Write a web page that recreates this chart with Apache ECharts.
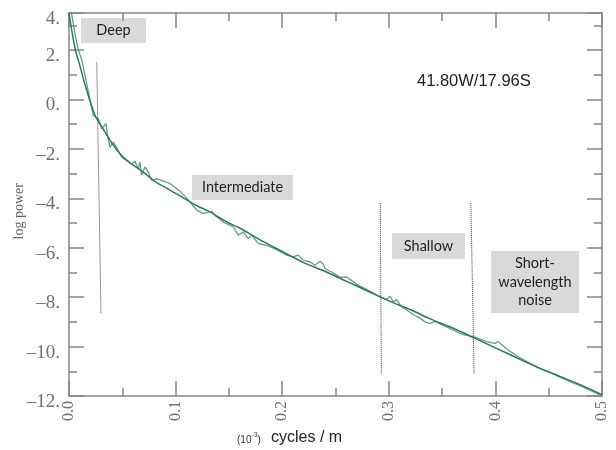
<!DOCTYPE html>
<html>
<head>
<meta charset="utf-8">
<script src="https://cdn.jsdelivr.net/npm/echarts@6/dist/echarts.min.js"></script>
<style>
  html, body { margin: 0; padding: 0; background: #fff; }
  #chart { width: 616px; height: 450px; }
</style>
</head>
<body>
<div id="chart"></div>
<script>
// fitted spectrum (x: 10^-3 cycles/m, y: log power)
var fitFreq = [0, 0.003, 0.006, 0.01, 0.015, 0.02, 0.025, 0.03, 0.04, 0.05, 0.06, 0.07, 0.08, 0.09, 0.1,
  0.11, 0.12, 0.13, 0.14, 0.15, 0.16, 0.18, 0.2, 0.22, 0.24, 0.26, 0.28, 0.3, 0.32, 0.34, 0.36, 0.38,
  0.4, 0.42, 0.44, 0.46, 0.48, 0.5];
var fitPower = [3.5, 2.7, 2.0, 1.4, 0.6, -0.1, -0.7, -1.05, -1.75, -2.3, -2.65, -2.95, -3.3, -3.55, -3.8,
  -4.05, -4.3, -4.5, -4.75, -5.0, -5.2, -5.7, -6.15, -6.6, -6.95, -7.35, -7.75, -8.15, -8.5, -8.9, -9.25, -9.65,
  -10.05, -10.45, -10.85, -11.2, -11.55, -11.95];

// observed (noisy) spectrum
var rawFreq = [0, 0.0025, 0.0056, 0.0088, 0.012, 0.018, 0.0228, 0.0275, 0.0306, 0.0347, 0.037, 0.0385,
  0.0416, 0.0447, 0.0494, 0.0588, 0.0619, 0.065, 0.0666, 0.068, 0.0713, 0.0744, 0.0776, 0.0823, 0.0885,
  0.0947, 0.104, 0.11, 0.1166, 0.1198, 0.126, 0.1338, 0.137, 0.1448, 0.1542, 0.1588, 0.1635, 0.1682,
  0.1714, 0.1776, 0.1854, 0.1948, 0.2042, 0.2104, 0.2151, 0.2198, 0.2261, 0.2308, 0.2355, 0.2386,
  0.2402, 0.2448, 0.2495, 0.2542, 0.2605, 0.2652, 0.2714, 0.2777, 0.284, 0.2917, 0.298, 0.3011,
  0.3042, 0.3074, 0.3121, 0.3168, 0.323, 0.3293, 0.334, 0.3386, 0.3433, 0.348, 0.3543, 0.3636,
  0.3699, 0.3793, 0.3918, 0.3996, 0.4027, 0.4105, 0.4231, 0.4325, 0.4418, 0.4512, 0.4606, 0.47,
  0.4794, 0.4887, 0.498, 0.5];
var rawPower = [3.55, 3.45, 2.65, 2.0, 1.6, 0.35, -0.65, -0.78, -1.18, -0.98, -1.66, -1.93,
  -1.72, -1.95, -2.33, -2.62, -2.5, -2.82, -2.53, -3.07, -2.73, -2.94, -3.27, -3.2, -3.3,
  -3.4, -3.7, -3.98, -4.3, -4.48, -4.62, -4.52, -4.69, -4.96, -5.16, -5.49, -5.36, -5.63,
  -5.49, -5.83, -5.9, -6.08, -6.3, -6.37, -6.3, -6.5, -6.57, -6.71, -6.55, -6.66,
  -6.84, -6.95, -7.06, -7.2, -7.18, -7.33, -7.52, -7.65, -7.79, -7.99, -8.08, -7.96,
  -8.19, -8.1, -8.4, -8.52, -8.7, -8.85, -9.0, -9.06, -8.98, -9.08, -9.2, -9.4,
  -9.52, -9.6, -9.8, -9.87, -9.8, -10.1, -10.45, -10.68, -10.88, -11.04, -11.24, -11.42,
  -11.58, -11.76, -11.96, -12.0];

// dotted band dividers: [top, bottom]
var deepDivFreq = [0.026, 0.030];
var deepDivPower = [1.5, -8.65];
var shallowDivFreq = [0.292, 0.293];
var shallowDivPower = [-4.2, -11.1];
var noiseDivFreq = [0.377, 0.380];
var noiseDivPower = [-4.2, -11.1];

var xMin = 0, xMax = 0.5, xStep = 0.1;
var yMin = -12, yMax = 3.5, yStep = 2;
var yTopLabel = '4.';

function pairs(xs, ys) {
  return xs.map(function (x, i) { return [x, ys[i]]; });
}

var axisGray = '#858585';
var serif = '"Liberation Serif", "DejaVu Serif", serif';
var sans = '"Liberation Sans", Arial, sans-serif';

function frameAxis(extra) {
  var base = {
    type: 'value',
    axisLine: { show: true, onZero: false, lineStyle: { color: axisGray, width: 1.5 } },
    axisTick: { show: true, inside: true, length: 15, lineStyle: { color: axisGray, width: 1.5 } },
    minorTick: { show: true, splitNumber: 2, length: 8, lineStyle: { color: axisGray, width: 1.5 } },
    splitLine: { show: false },
    minorSplitLine: { show: false }
  };
  return Object.assign(base, extra);
}

function box(x, y, w, h, text, lh) {
  return {
    type: 'group', left: x, top: y, z: 50,
    children: [
      { type: 'rect', shape: { x: 0, y: 0, width: w, height: h }, style: { fill: '#d9d9d9' } },
      { type: 'text', x: w / 2, y: h / 2, style: {
          text: text, align: 'center', verticalAlign: 'middle',
          font: '14.5px Lato', fill: '#222', lineHeight: lh || 18 } }
    ]
  };
}

function label(x, y, text, font, fill) {
  return {
    type: 'text', x: x, y: y, z: 50,
    style: { text: text, font: font, fill: fill, verticalAlign: 'middle' }
  };
}

var myChart = echarts.init(document.getElementById('chart'));
var option = {
  animation: false,
  backgroundColor: '#fff',
  grid: { left: 69, right: 14, top: 13, bottom: 54 },
  xAxis: [
    frameAxis({
      position: 'bottom', min: xMin, max: xMax, interval: xStep,
      axisLabel: { rotate: 90, margin: 5, color: '#707070', fontFamily: serif, fontSize: 16,
        formatter: function (v) { return v.toFixed(1); } }
    }),
    frameAxis({
      position: 'top', min: xMin, max: xMax, interval: xStep,
      axisLabel: { show: false }
    })
  ],
  yAxis: [
    frameAxis({
      position: 'left', min: yMin, max: yMax, interval: yStep,
      axisLabel: { margin: 9, color: '#707070', fontFamily: serif, fontSize: 19,
        verticalAlign: 'top', lineHeight: 12,
        formatter: function (v) {
          if (v >= yMax) return yTopLabel;
          return (v < 0 ? '\u2013' + (-v) : v) + '.';
        } }
    }),
    frameAxis({
      position: 'right', min: yMin, max: yMax, interval: yStep,
      axisLabel: { show: false }
    })
  ],
  series: [
    {
      type: 'line', data: pairs(rawFreq, rawPower), showSymbol: false,
      lineStyle: { color: '#5f9f7e', width: 1.3 }
    },
    {
      type: 'line', data: pairs(fitFreq, fitPower), showSymbol: false, smooth: 0.3,
      lineStyle: { color: '#2f7a56', width: 1.5 }
    },
    {
      type: 'line', data: pairs(deepDivFreq, deepDivPower), showSymbol: false,
      lineStyle: { color: '#333', width: 1, type: 'dotted' }
    },
    {
      type: 'line', data: pairs(shallowDivFreq, shallowDivPower), showSymbol: false,
      lineStyle: { color: '#333', width: 1, type: 'dotted' }
    },
    {
      type: 'line', data: pairs(noiseDivFreq, noiseDivPower), showSymbol: false,
      lineStyle: { color: '#333', width: 1, type: 'dotted' }
    }
  ],
  graphic: [
    box(81, 18, 65, 25, 'Deep'),
    box(192, 175, 101, 25, 'Intermediate'),
    box(392, 233, 73, 26, 'Shallow'),
    box(491, 251, 88, 62, 'Short-\nwavelength\nnoise', 18.5),
    {
      type: 'text', left: 417, top: 73, z: 50,
      style: { text: '41.80W/17.96S', font: '16.5px ' + sans, fill: '#222' }
    },
    {
      type: 'text', left: 12, top: 183, rotation: Math.PI / 2, z: 50,
      style: { text: 'log power', font: '14px ' + serif, fill: '#666' }
    },
    label(237, 440, '(10', '10px ' + sans, '#333'),
    label(251.5, 435, '-3', '7px ' + sans, '#333'),
    label(257.5, 440, ')', '10px ' + sans, '#333'),
    label(271, 438, 'cycles / m', '16px ' + sans, '#222')
  ]
};
myChart.setOption(option);
</script>
</body>
</html>
